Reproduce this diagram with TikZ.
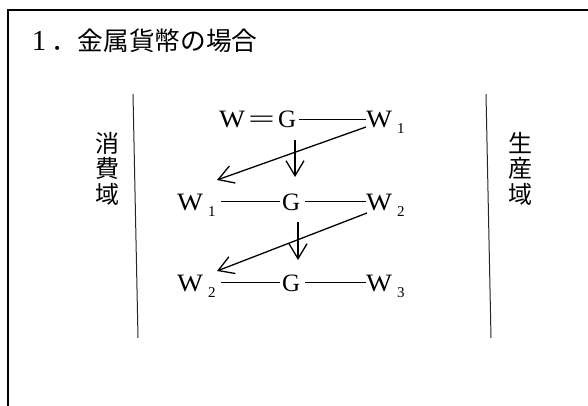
\documentclass[tikz,border=0pt]{standalone}
\usepackage{fontspec}
\usepackage{graphicx}
\setmainfont{Liberation Serif}
\newfontfamily\cjk{Noto Sans CJK JP}
\usetikzlibrary{arrows.meta,calc}
\newcommand\Wd{\scalebox{1.1}[1]{W}}
\newcommand\sbx[1]{\hspace{5pt}\raisebox{-6pt}{\fontsize{15}{15}\selectfont #1}}
\begin{document}
\begin{tikzpicture}[x=1pt,y=-1pt,
  lbl/.style={inner sep=0pt,anchor=base west,font=\fontsize{25}{25}\selectfont},
  vlbl/.style={inner sep=0pt,align=center,font=\cjk\fontsize{24}{25.5}\selectfont},
  rule/.style={line width=0.9pt},
  sepline/.style={line width=1pt,black!85},
  frameline/.style={line width=1.5pt},
  arr/.style={line width=1.3pt,-{Straight Barb[length=15pt,width=18pt]}}]
\useasboundingbox (0,0) rectangle (588,406);
% frame
\draw[frameline] (8,406) -- (8,10) -- (588,10);
% title
\node[inner sep=0pt,anchor=base west,font=\fontsize{25.7}{26}\selectfont] (title) at (26,51)
  {\makebox[25.7pt]{\fontsize{29}{29}\selectfont 1}\cjk ．金属貨幣の場合};
% side labels
\node[vlbl] (cons) at (107.5,168.5) {消\\費\\域};
\node[vlbl] (prod) at (520,168.5) {生\\産\\域};
\coordinate (l1) at (133,94); \coordinate (l2) at (138,338);
\coordinate (r1) at (486,94); \coordinate (r2) at (491,338);
\draw[sepline] (l1) -- (l2);
\draw[sepline] (r1) -- (r2);
% row 1
\node[lbl] (w0) at (219,128) {\Wd};
\node[lbl] (eq) at (248,128) {\scalebox{1.9}[1]{=}};
\node[lbl] (g1) at (278,128) {G};
\node[lbl] (w1a) at (366,128) {\Wd\sbx{1}};
% row 2
\node[lbl] (w1b) at (177,210) {\Wd\sbx{1}};
\node[lbl] (g2) at (282,210) {G};
\node[lbl] (w2a) at (366,210) {\Wd\sbx{2}};
% row 3
\node[lbl] (w2b) at (177,291) {\Wd\sbx{2}};
\node[lbl] (g3) at (282,291) {G};
\node[lbl] (w3) at (366,291) {\Wd\sbx{3}};
% horizontal lines
\draw[rule,shorten <=3pt] (g1.east) -- (g1.east -| w1a.west);
\draw[rule,shorten <=5pt,shorten >=2pt] (w1b.east |- g2.west) -- (g2.west);
\draw[rule,shorten <=5pt] (g2.east) -- (g2.east -| w2a.west);
\draw[rule,shorten <=5pt,shorten >=2pt] (w2b.east |- g3.west) -- (g3.west);
\draw[rule,shorten <=5pt] (g3.east) -- (g3.east -| w3.west);
% arrows
\draw[arr] ($(w1a.base west)+(0,-1)$) -- ($(w1b.base west)+(40,-30)$);
\draw[arr] ($(g1.base west)+(17,12)$) -- ($(g2.base west)+(13,-33)$);
\draw[arr] ($(w2a.base west)+(1,3)$) -- ($(w2b.base west)+(40,-20)$);
\draw[arr] ($(g2.base west)+(16,12)$) -- ($(g3.base west)+(16,-31)$);
\end{tikzpicture}
\end{document}
